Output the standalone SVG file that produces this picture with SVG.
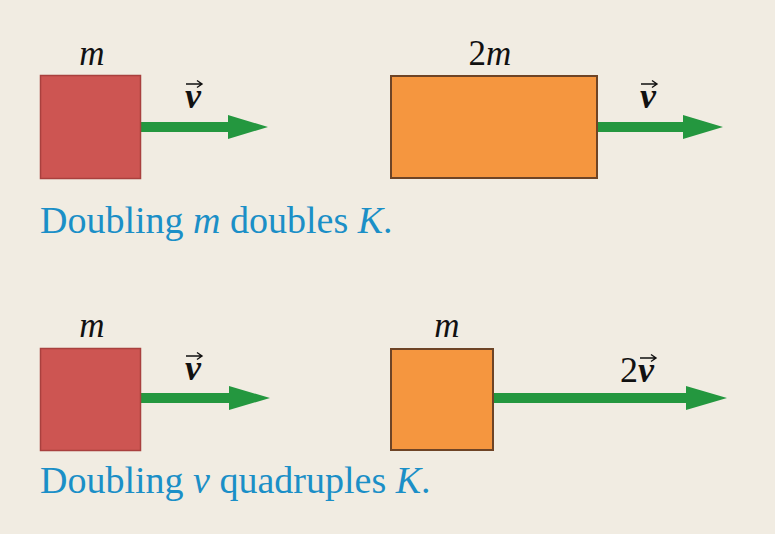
<svg xmlns="http://www.w3.org/2000/svg" width="775" height="534" viewBox="0 0 775 534">
<style>
.bg{fill:#f1ece2}
.red{fill:#cd5552;stroke:#a9403e;stroke-width:1.5}
.orange{fill:#f5963f;stroke:#6e4426;stroke-width:2}
.arrow{fill:#24973f}
.lbl{font-family:"Liberation Serif",serif;font-size:35px;font-style:italic;fill:#111;text-anchor:middle}
.num{font-style:normal}
.vec{font-family:"Liberation Serif",serif;font-size:36px;font-style:italic;font-weight:bold;fill:#111;text-anchor:middle}
.acc{stroke:#111;stroke-width:1.4;fill:none}
.cap{font-family:"Liberation Serif",serif;font-size:38px;fill:#1b8fc7}
.it{font-style:italic}
</style>
<defs>
<path id="accent" d="M-8,0 H7 M3,-3.5 L8,0 L3,3.5" class="acc"/>
</defs>
<rect class="bg" x="0" y="0" width="775" height="534"/>

<g id="connectors">
<path class="arrow" d="M139,122 H228 V115 L268,127 L228,139 V132 H139 Z"/>
<path class="arrow" d="M596,122 H683 V115 L723,127 L683,139 V132 H596 Z"/>
<path class="arrow" d="M140,393 H229 V386 L270,398 L229,410 V403 H140 Z"/>
<path class="arrow" d="M493,393 H686 V386 L727,398 L686,410 V403 H493 Z"/>
</g>

<g id="block1">
<rect class="red" x="40.5" y="75.5" width="100" height="103"/>
<text class="lbl" x="92" y="65">m</text>
<text class="vec" x="193" y="108">v</text>
<use href="#accent" x="194" y="84"/>
</g>

<g id="block2">
<rect class="orange" x="391" y="76" width="206" height="102"/>
<text class="lbl" x="490" y="65"><tspan class="num">2</tspan>m</text>
<text class="vec" x="648" y="108">v</text>
<use href="#accent" x="649" y="84"/>
</g>

<g id="caption1">
<text class="cap" x="40" y="233">Doubling <tspan class="it">m</tspan> doubles <tspan class="it">K</tspan>.</text>
</g>

<g id="block3">
<rect class="red" x="40.5" y="348.5" width="100" height="102"/>
<text class="lbl" x="92" y="337">m</text>
<text class="vec" x="193" y="380">v</text>
<use href="#accent" x="194" y="356"/>
</g>

<g id="block4">
<rect class="orange" x="391" y="349" width="102" height="101"/>
<text class="lbl" x="447" y="337">m</text>
<text class="vec" x="637" y="382"><tspan font-weight="normal" font-style="normal">2</tspan>v</text>
<use href="#accent" x="648" y="358"/>
</g>

<g id="caption2">
<text class="cap" x="40" y="493">Doubling <tspan class="it">v</tspan> quadruples <tspan class="it">K</tspan>.</text>
</g>
</svg>
